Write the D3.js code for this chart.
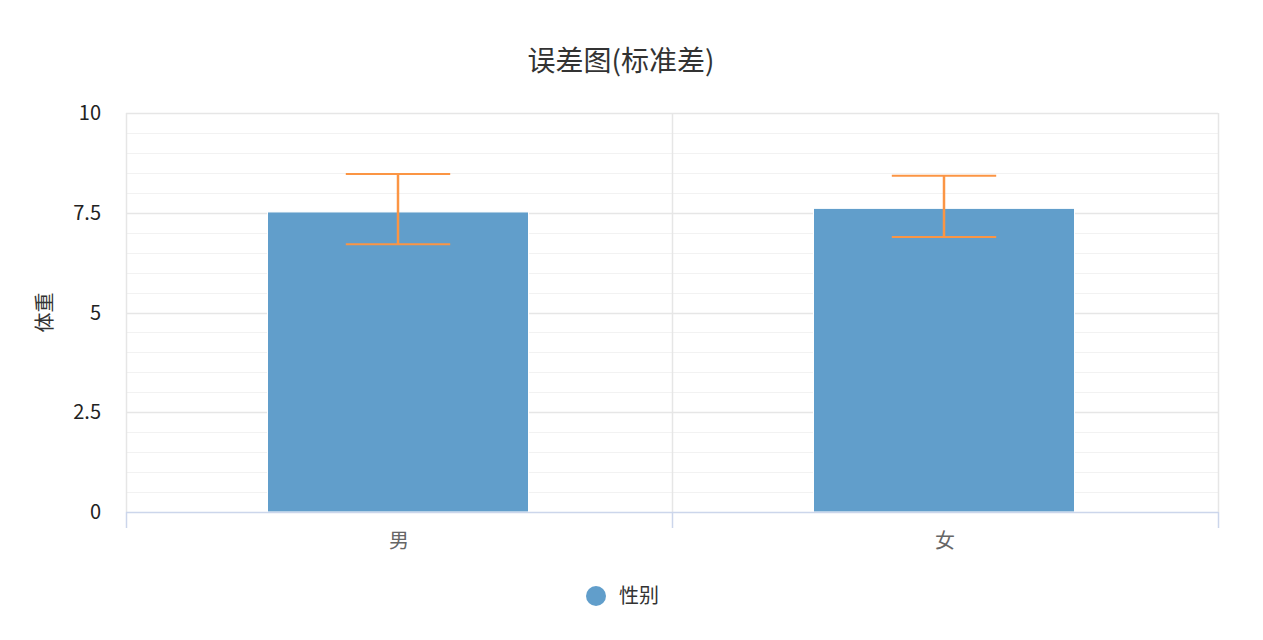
<!DOCTYPE html>
<html>
<head>
<meta charset="utf-8">
<script src="https://cdn.jsdelivr.net/npm/d3@7"></script>
<style>
  html, body { margin: 0; padding: 0; background: #fff; }
  svg { display: block; font-family: "Microsoft YaHei", "Noto Sans CJK SC", "Noto Sans", sans-serif; }
</style>
</head>
<body>
<svg id="chart" width="1263" height="640"></svg>
<script>
// data
const categories = ["男", "女"];
const means = [7.52, 7.61];
const errLow = [6.71, 6.89];
const errHigh = [8.47, 8.43];
const yTicks = [0, 2.5, 5, 7.5, 10];
const yTickLabels = ["0", "2.5", "5", "7.5", "10"];
const seriesName = "性别";
const yTitle = "体重";
const chartTitle = "误差图(标准差)";

const W = 1263, H = 640;
const margin = {left: 126, right: 45, top: 113, bottom: 128};
const innerW = W - margin.left - margin.right;
const innerH = H - margin.top - margin.bottom;

const svg = d3.select("#chart");
const g = svg.append("g").attr("transform", `translate(${margin.left},${margin.top})`);

const x = d3.scaleBand().domain(categories).range([0, innerW]).padding(0);
const y = d3.scaleLinear().domain([0, 10]).range([innerH, 0]);

// minor grid every 0.5
const minor = d3.range(0.5, 10, 0.5).filter(v => v % 2.5 !== 0);
g.append("g").selectAll("line").data(minor).join("line")
    .attr("x1", 0).attr("x2", innerW)
    .attr("y1", d => Math.round(y(d)) + 0.5).attr("y2", d => Math.round(y(d)) + 0.5)
    .attr("stroke", "#f2f2f2").attr("stroke-width", 1);

// major grid
g.append("g").selectAll("line").data(yTicks.filter(d => d > 0)).join("line")
    .attr("x1", 0).attr("x2", innerW)
    .attr("y1", d => Math.round(y(d)) + 0.5).attr("y2", d => Math.round(y(d)) + 0.5)
    .attr("stroke", "#e6e6e6").attr("stroke-width", 1.5);

// vertical grid at band edges
const edges = [0].concat(categories.map(c => x(c) + x.bandwidth()));
g.append("g").selectAll("line").data(edges).join("line")
    .attr("x1", d => d + 0.5).attr("x2", d => d + 0.5)
    .attr("y1", 0).attr("y2", innerH)
    .attr("stroke", "#e6e6e6").attr("stroke-width", 1.5);

// bars
const barW = x.bandwidth() * 0.478;
g.append("g").selectAll("rect").data(categories).join("rect")
    .attr("x", d => x(d) + (x.bandwidth() - barW) / 2 - 1)
    .attr("y", (d, i) => y(means[i]))
    .attr("width", barW)
    .attr("height", (d, i) => innerH - y(means[i]))
    .attr("fill", "#619ecb")
    .attr("stroke", "#fff").attr("stroke-width", 1);

// error bars
const capW = barW * 0.4;
const eb = g.append("g").selectAll("g").data(categories).join("g")
    .attr("transform", d => `translate(${x(d) + x.bandwidth() / 2 - 1},0)`);
eb.append("line")
    .attr("x1", 0).attr("x2", 0)
    .attr("y1", (d, i) => y(errHigh[i])).attr("y2", (d, i) => y(errLow[i]))
    .attr("stroke", "#fb9544").attr("stroke-width", 2.5);
eb.append("line")
    .attr("x1", -capW / 2).attr("x2", capW / 2)
    .attr("y1", (d, i) => y(errHigh[i])).attr("y2", (d, i) => y(errHigh[i]))
    .attr("stroke", "#fb9544").attr("stroke-width", 2);
eb.append("line")
    .attr("x1", -capW / 2).attr("x2", capW / 2)
    .attr("y1", (d, i) => y(errLow[i])).attr("y2", (d, i) => y(errLow[i]))
    .attr("stroke", "#fb9544").attr("stroke-width", 2);

// x axis
const xAxis = g.append("g").attr("transform", `translate(0,${innerH})`);
xAxis.append("line")
    .attr("x1", 0).attr("x2", innerW).attr("y1", 0.5).attr("y2", 0.5)
    .attr("stroke", "#ccd6eb").attr("stroke-width", 1.5);
xAxis.selectAll("line.tick").data(edges).join("line")
    .attr("class", "tick")
    .attr("x1", d => d + 0.5).attr("x2", d => d + 0.5)
    .attr("y1", 0).attr("y2", 16)
    .attr("stroke", "#ccd6eb").attr("stroke-width", 1.5);
xAxis.selectAll("text").data(categories).join("text")
    .attr("x", d => x(d) + x.bandwidth() / 2)
    .attr("y", 36)
    .attr("text-anchor", "middle")
    .attr("font-size", 20)
    .attr("fill", "#666")
    .text(d => d);

// y axis labels
g.append("g").selectAll("text").data(yTicks).join("text")
    .attr("x", -25)
    .attr("y", d => y(d) + 7)
    .attr("text-anchor", "end")
    .attr("font-size", 20)
    .attr("fill", "#222")
    .text((d, i) => yTickLabels[i]);

// y title
svg.append("text")
    .attr("transform", `translate(52,${margin.top + innerH / 2}) rotate(-90)`)
    .attr("text-anchor", "middle")
    .attr("font-size", 20)
    .attr("fill", "#333")
    .text(yTitle);

// title
svg.append("text")
    .attr("x", 621).attr("y", 71)
    .attr("text-anchor", "middle")
    .attr("font-size", 28)
    .attr("fill", "#333")
    .text(chartTitle);

// legend
const leg = svg.append("g").attr("transform", "translate(596,596)");
leg.append("circle").attr("r", 10).attr("fill", "#619ecb");
leg.append("text").attr("x", 23).attr("y", 7)
    .attr("font-size", 20).attr("fill", "#333")
    .text(seriesName);
</script>
</body>
</html>
